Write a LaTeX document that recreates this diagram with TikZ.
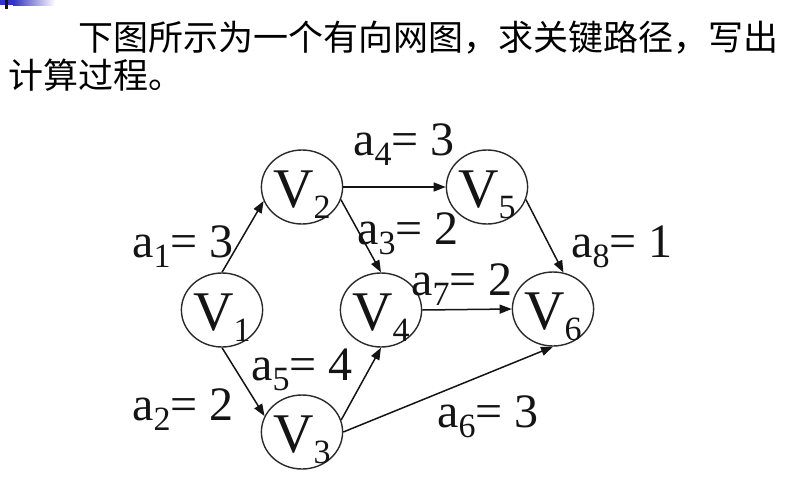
\documentclass[tikz,border=0pt]{standalone}
\usepackage{fontspec}
\setmainfont{Liberation Serif}
\newfontfamily\cjk{Noto Sans CJK SC}
\usepackage{tikz}
\usetikzlibrary{arrows.meta,shapes.geometric}
\definecolor{ink}{HTML}{141414}
\definecolor{rim}{HTML}{2A2A2A}
\definecolor{barblue}{HTML}{3232C4}
\tikzset{
  vnode/.style={ellipse,draw=rim,line width=1.4pt,minimum width=80pt,minimum height=74pt,inner sep=0pt,text=ink,text height=44pt,text depth=4pt,font=\fontsize{56}{56}\selectfont},
  elabel/.style={anchor=base west,inner sep=0pt,text=ink,font=\fontsize{48}{48}\selectfont},
  arrow/.style={-{Triangle[length=12pt,width=9pt]},line width=1.5pt,color=ink},
  qtext/.style={anchor=base west,inner sep=0pt,text=black,font=\cjk\fontsize{35}{35}\selectfont},
}
\newcommand{\vsub}[1]{V\raisebox{-0.2em}{\fontsize{34}{34}\selectfont #1}}
\newcommand{\asub}[2]{a\raisebox{-0.22em}{\fontsize{34}{34}\selectfont #1}= #2}

\begin{document}
\begin{tikzpicture}[x=1pt,y=-1pt]
    \useasboundingbox (0,0) rectangle (796,485);
    % corner mark
    \fill[barblue] (0,0) rectangle (13,5);
    \shade[left color=barblue,right color=white] (13,0) rectangle (55,5);
    \fill[ink] (5,0) rectangle (8,9);
    % question
    \node[qtext] (q1) at (78,50) {下图所示为一个有向网图，求关键路径，写出};
    \node[qtext] (q2) at (8,88) {计算过程。};
    % vertices
    \node[vnode] (V1) at (222,310) {\vsub{1}};
    \node[vnode] (V2) at (302,187) {\vsub{2}};
    \node[vnode] (V3) at (302,432) {\vsub{3}};
    \node[vnode] (V4) at (381,310) {\vsub{4}};
    \node[vnode] (V5) at (487,187) {\vsub{5}};
    \node[vnode] (V6) at (553,309) {\vsub{6}};
    % activities
    \draw[arrow] (V1.north) -- (V2.200);
    \draw[arrow] (V1.south) -- (V3.157);
    \draw[arrow] (V2.-18) -- (V4.north);
    \draw[arrow] (V2.east) -- (V5.west);
    \draw[arrow] (V3.17) -- (V4.south);
    \draw[arrow] (V3.east) -- (V6.south);
    \draw[arrow] (V4.east) -- (V6.west);
    \draw[arrow] (V5.-18) -- (V6.74);
    % weights
    \node[elabel] (a1) at (132,257) {\asub{1}{3}};
    \node[elabel] (a2) at (132,420) {\asub{2}{2}};
    \node[elabel] (a3) at (357,244) {\asub{3}{2}};
    \node[elabel] (a4) at (353,155) {\asub{4}{3}};
    \node[elabel] (a5) at (251,380) {\asub{5}{4}};
    \node[elabel] (a6) at (437,427) {\asub{6}{3}};
    \node[elabel] (a7) at (411,295) {\asub{7}{2}};
    \node[elabel] (a8) at (571,257) {\asub{8}{1}};
\end{tikzpicture}
\end{document}
